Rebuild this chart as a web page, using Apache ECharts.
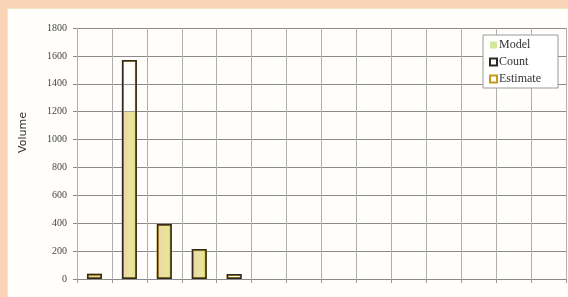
<!DOCTYPE html>
<html>
<head>
<meta charset="utf-8">
<script src="https://cdn.jsdelivr.net/npm/echarts@6/dist/echarts.min.js"></script>
<style>
  html, body { margin: 0; padding: 0; }
  body { width: 568px; height: 297px; background: #f9d3b6; position: relative; overflow: hidden; }
  #panel { position: absolute; left: 7px; top: 8px; width: 570px; height: 295px; background: #fffefa; border-left: 1px solid #f3e6c8; border-top: 1px solid #f3e6c8; }
  #chartContainer { position: absolute; left: 0; top: 0; width: 568px; height: 297px; }
</style>
</head>
<body>
<div id="panel"></div>
<div id="chartContainer"></div>
<script>
// 14 bins along the x axis, no labels shown
const categories = ['1', '2', '3', '4', '5', '6', '7', '8', '9', '10', '11', '12', '13', '14'];
const modelValues = [35, 1200, 390, 200, 0, null, null, null, null, null, null, null, null, null];
const countValues = [38, 1570, 395, 215, 35, null, null, null, null, null, null, null, null, null];
const estimateValues = [38, 1570, 395, 215, 35, null, null, null, null, null, null, null, null, null];
const yTicks = [0, 200, 400, 600, 800, 1000, 1200, 1400, 1600, 1800];

let chart = null;

document.addEventListener('DOMContentLoaded', function() {
    chart = echarts.init(document.getElementById('chartContainer'));
    drawChart();
});

function drawChart() {
    const serif = 'Liberation Serif';
    const barW = 15;

    const option = {
        animation: false,
        grid: { left: 77, right: 2, top: 28, bottom: 18 },
        graphic: [{
            type: 'text',
            left: 18,
            top: 112,
            rotation: Math.PI / 2,
            style: { text: 'Volume', font: '11px "DejaVu Sans"', fill: '#333' }
        }],
        legend: {
            orient: 'vertical',
            left: 483,
            top: 35,
            padding: [4, 17, 3, 6],
            itemGap: 5,
            itemWidth: 7,
            itemHeight: 7,
            borderColor: '#9a9a9a',
            borderWidth: 1,
            backgroundColor: '#ffffff',
            textStyle: { fontFamily: serif, fontSize: 12, color: '#333', padding: [0, 0, 0, -3] },
            data: [
                { name: 'Model', icon: 'rect', itemStyle: { color: '#d3e79c' } },
                { name: 'Count', icon: 'rect' },
                { name: 'Estimate', icon: 'rect' }
            ]
        },
        xAxis: {
            type: 'category',
            data: categories,
            boundaryGap: true,
            axisLine: { show: true, lineStyle: { color: '#8a8a8a' } },
            axisTick: { show: true, length: 4, lineStyle: { color: '#9a9a9a' } },
            axisLabel: { show: false },
            splitLine: { show: true, lineStyle: { color: '#b0b0b0' } }
        },
        yAxis: {
            type: 'value',
            min: 0,
            max: 1800,
            interval: 200,
            axisLine: { show: false },
            axisTick: { show: true, length: 4, lineStyle: { color: '#8a8a8a' } },
            axisLabel: {
                fontFamily: serif, fontSize: 10, color: '#444', margin: 10,
                formatter: v => yTicks.includes(v) ? String(v) : ''
            },
            splitLine: { show: true, lineStyle: { color: '#8c8c8c' } }
        },
        series: [
            {
                name: 'Model',
                type: 'bar',
                data: modelValues,
                barWidth: barW,
                barGap: '-100%',
                itemStyle: {
                    color: new echarts.graphic.LinearGradient(0, 0, 1, 0, [
                        { offset: 0, color: '#f0d2ae' },
                        { offset: 0.6, color: '#e9e49a' },
                        { offset: 1, color: '#e4e690' }
                    ])
                },
                z: 2
            },
            {
                name: 'Estimate',
                type: 'bar',
                data: estimateValues,
                barWidth: barW,
                barGap: '-100%',
                itemStyle: { color: 'rgba(0,0,0,0)', borderColor: '#c89a1a', borderWidth: 2 },
                z: 3
            },
            {
                name: 'Count',
                type: 'bar',
                data: countValues,
                barWidth: barW,
                barGap: '-100%',
                itemStyle: { color: 'rgba(0,0,0,0)', borderColor: '#2e2a22', borderWidth: 1.5 },
                z: 4
            }
        ]
    };

    chart.setOption(option);
}
</script>
</body>
</html>
